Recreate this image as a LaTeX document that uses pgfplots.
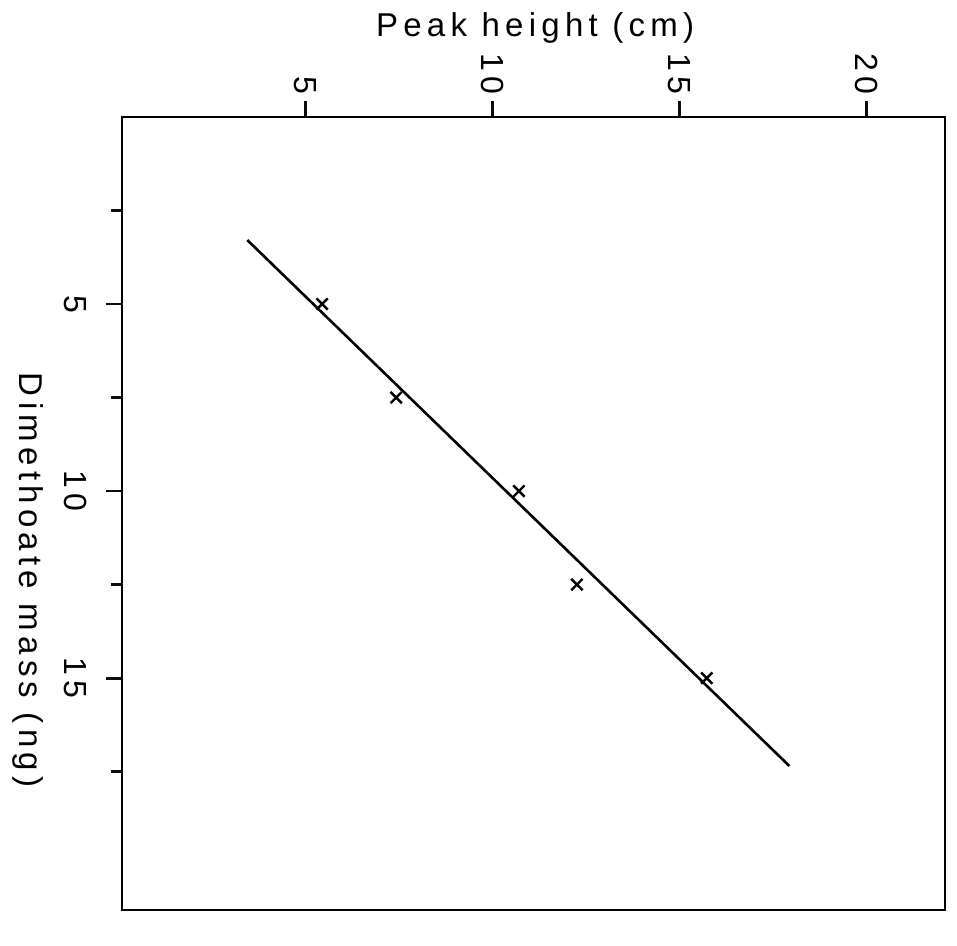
\documentclass[border=0pt]{standalone}
\usepackage{pgfplots}
\pgfplotsset{compat=1.18}
\usepackage{fontspec}
\setmainfont{Liberation Sans}
\newfontfamily\plotfont{Liberation Sans}[LetterSpace=16]
\definecolor{ink}{rgb}{0.05,0.05,0.05}

\begin{document}
\begin{tikzpicture}
\begin{axis}[
  scale only axis,
  width=411.5pt, height=396.5pt,
  xmin=0.1, xmax=22.1,
  ymin=0, ymax=21.2,
  y dir=reverse,
  axis line style={line width=1.3pt},
  major tick style={line width=1.4pt, ink},
  minor tick style={line width=1.4pt, ink},
  tick align=outside,
  major tick length=8pt,
  minor tick length=5.5pt,
  xtick={5,10,15,20},
  ytick={5,10,15},
  minor ytick={2.5,7.5,12.5,17.5},
  xtick pos=right, xticklabel pos=right,
  ytick pos=left, yticklabel pos=left,
  /pgf/number format/assume math mode=true,
  xticklabel style={rotate=-90, anchor=east, font=\plotfont\fontsize{16}{18}\selectfont},
  yticklabel style={rotate=-90, anchor=north, font=\plotfont\fontsize{16}{18}\selectfont},
  yticklabel shift=6pt,
  xlabel={Peak height (cm)},
  ylabel={Dimethoate mass (ng)},
  xlabel style={at={(axis description cs:0.502,1.112)}, anchor=center, font=\plotfont\fontsize{16.5}{18}\selectfont},
  ylabel style={at={(axis description cs:-0.114,0.416)}, anchor=center, rotate=180, font=\plotfont\fontsize{16.5}{18}\selectfont},
  clip=false,
]
% fitted line
\addplot[black, line width=1.3pt] coordinates {(3.45,3.29) (17.94,17.35)};
% measured points
\addplot[only marks, mark=x, mark size=4pt, line width=1.2pt, black] coordinates {
  (5.45,5) (7.43,7.5) (10.71,10) (12.26,12.5) (15.73,15)
};
\end{axis}
\path ([shift={(-61pt,-17.5pt)}]current axis.south west) rectangle ([shift={(6pt,58.5pt)}]current axis.north east);
\end{tikzpicture}
\end{document}
